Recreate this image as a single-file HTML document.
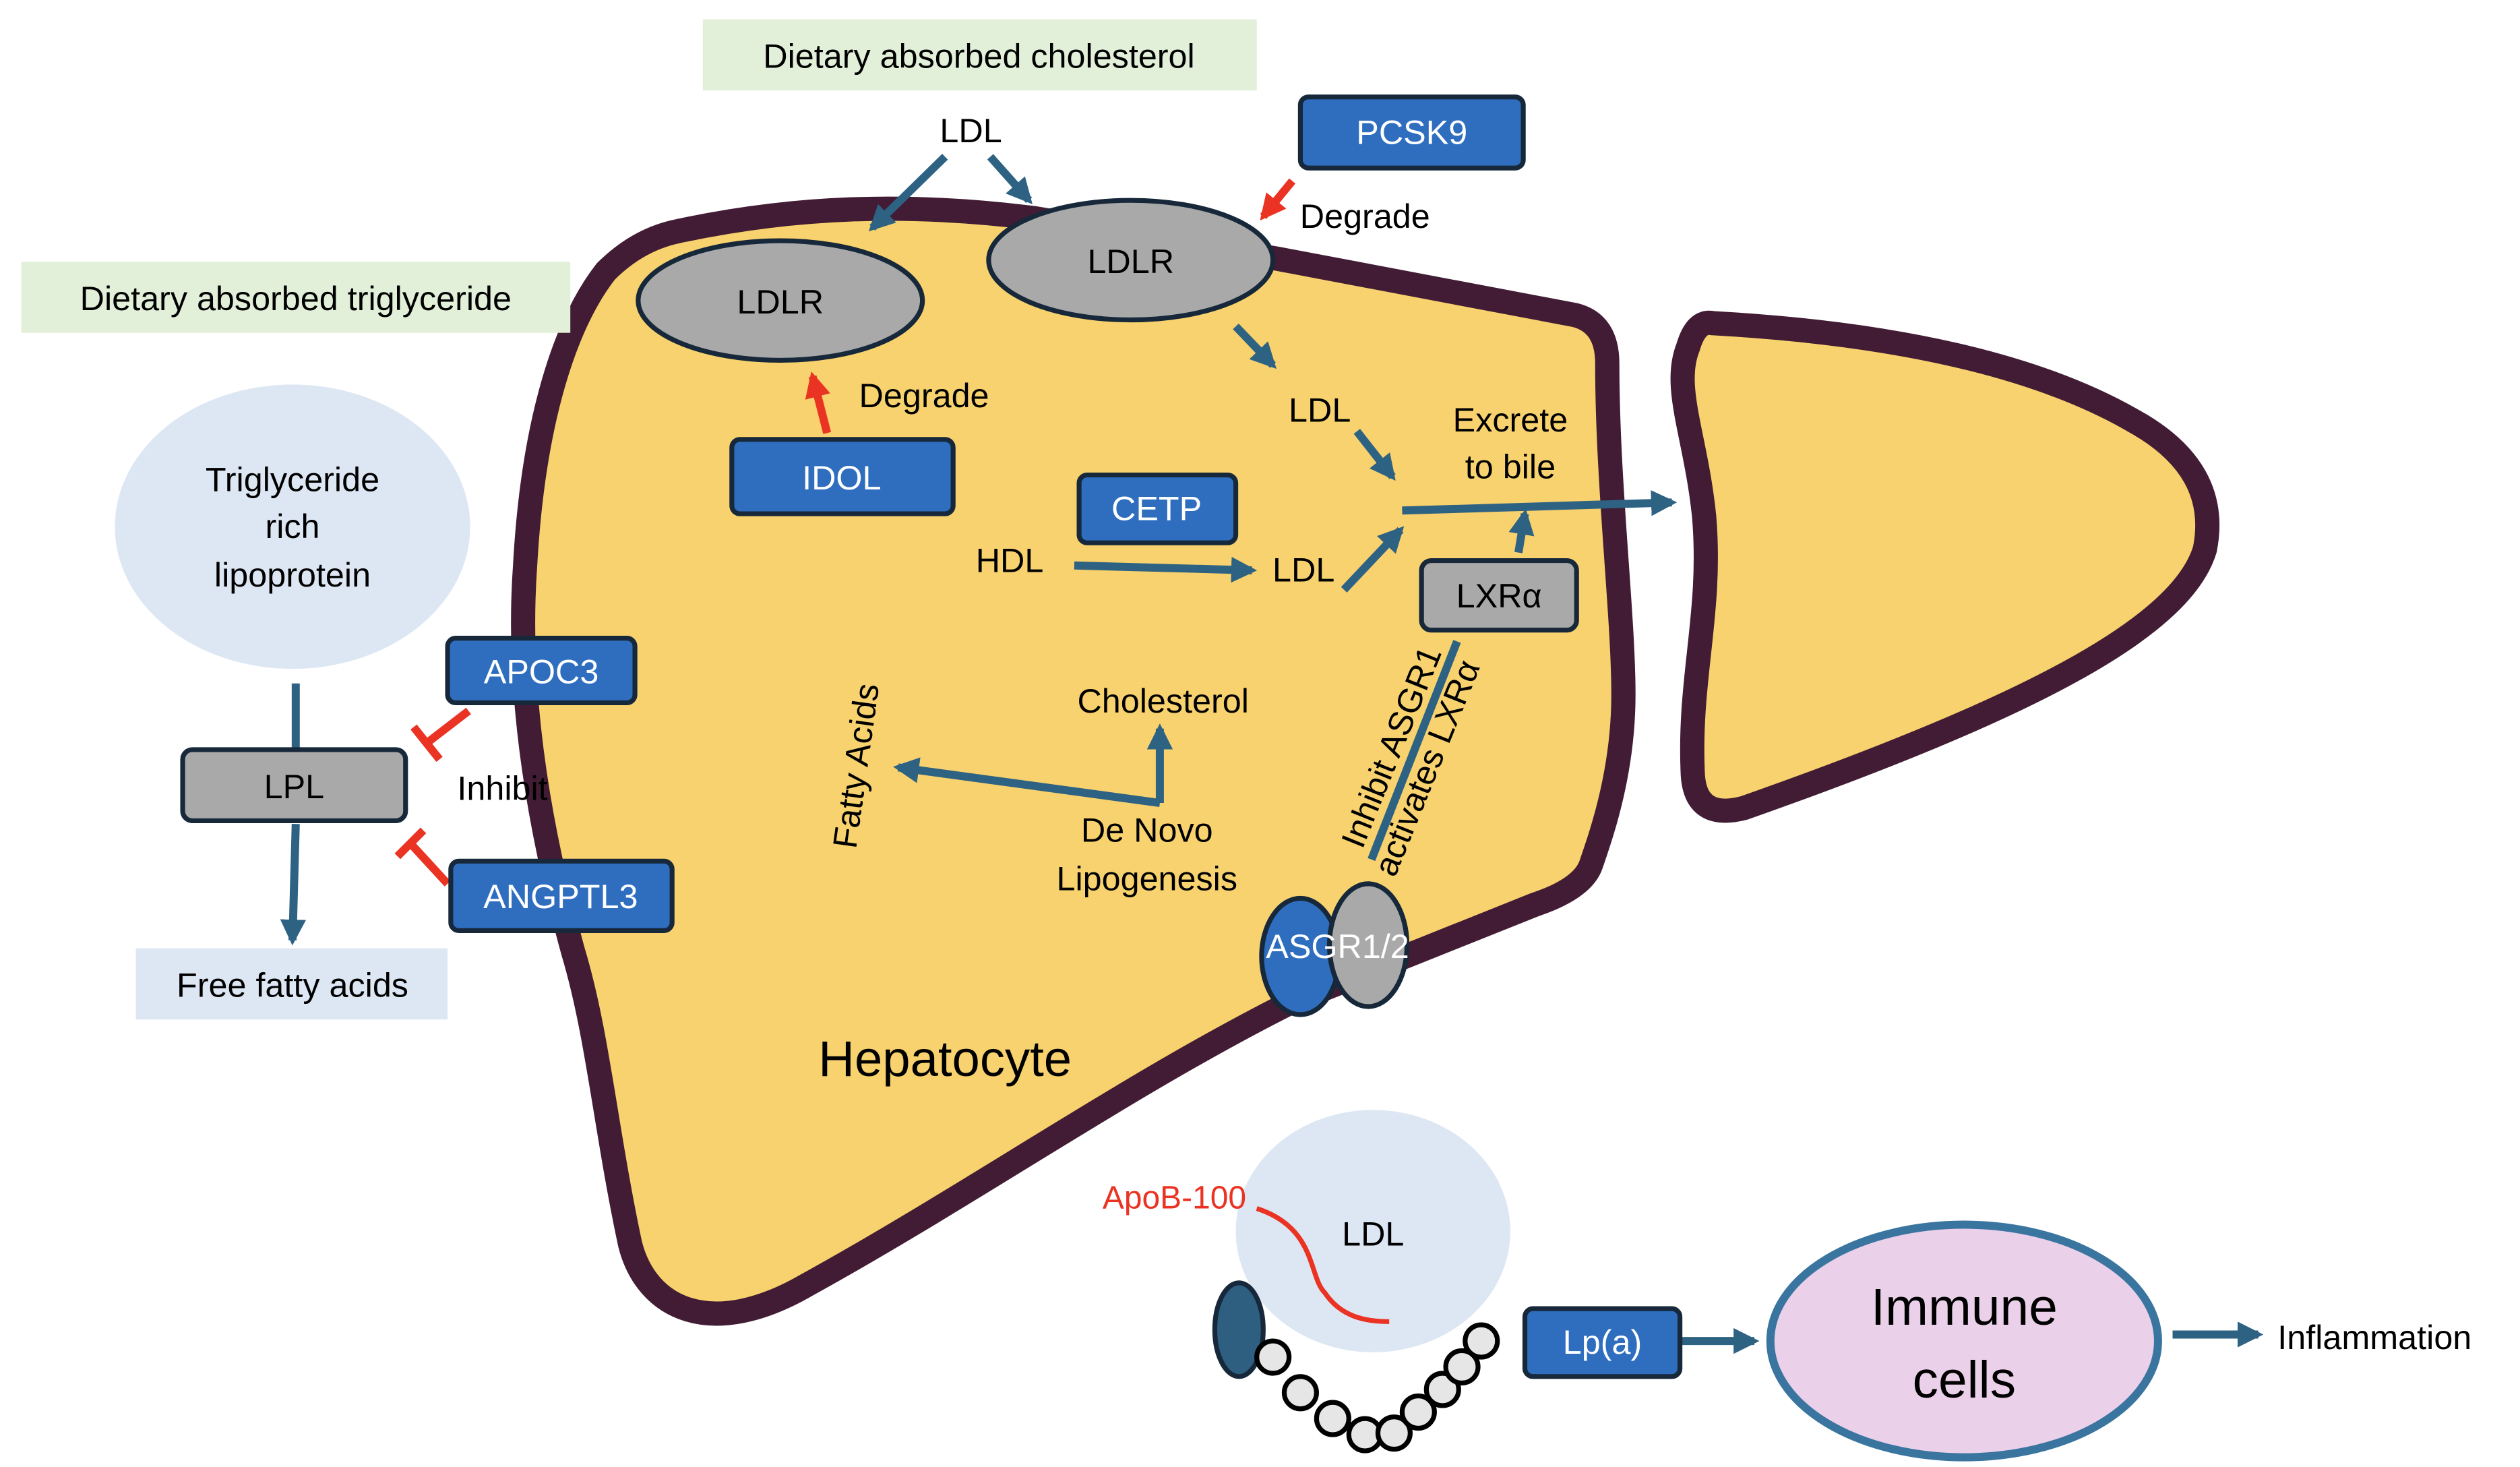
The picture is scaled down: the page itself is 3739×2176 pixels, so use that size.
<!DOCTYPE html>
<html><head><meta charset="utf-8"><style>html,body{margin:0;padding:0;background:#fff}svg{display:block}text{font-family:"Liberation Sans",sans-serif;fill:#000}</style></head><body>
<svg width="3739" height="2176" viewBox="0 0 1560 908" xmlns="http://www.w3.org/2000/svg">
<defs>
<marker id="a" viewBox="0 0 10 10" refX="8" refY="5" markerWidth="3.2" markerHeight="3.2" orient="auto"><path d="M0,0L10,5L0,10z" fill="#2e6283"/></marker>
<marker id="r" viewBox="0 0 10 10" refX="8" refY="5" markerWidth="3.2" markerHeight="3.2" orient="auto"><path d="M0,0L10,5L0,10z" fill="#ea3323"/></marker>
</defs>
<path d="M420,143 C490,128 560,125 640,135 L790,160 L975,195 Q995,200 995,225 C995,300 1005,380 1005,430 C1005,480 990,520 985,535 Q980,550 950,560 L800,620 C700,670 600,740 500,795 C440,830 400,810 390,770 C375,700 370,640 355,590 C330,500 320,420 325,350 C330,260 350,200 375,168 Q395,148 420,143 Z" fill="#f7d26e" stroke="#421c34" stroke-width="15"/>
<path d="M1060,200 C1150,205 1250,220 1320,260 Q1375,290 1365,340 C1350,390 1250,440 1080,500 Q1050,508 1048,480 C1045,420 1060,380 1055,320 C1050,270 1035,240 1045,215 Q1050,198 1060,200 Z" fill="#f7d26e" stroke="#421c34" stroke-width="15"/>
<g font-size="21">
<rect x="435" y="12" width="343" height="44" fill="#e2f0d9"/><text x="606" y="42" text-anchor="middle">Dietary absorbed cholesterol</text>
<rect x="13" y="162" width="340" height="44" fill="#e2f0d9"/><text x="183" y="192" text-anchor="middle">Dietary absorbed triglyceride</text>
<text x="601" y="88" text-anchor="middle">LDL</text>
</g>
<g stroke="#2e6283" stroke-width="5" fill="none" marker-end="url(#a)">
<line x1="585" y1="97" x2="540" y2="141"/>
<line x1="613" y1="97" x2="637" y2="124"/>
<line x1="765" y1="202" x2="788" y2="226"/>
<line x1="840" y1="267" x2="862" y2="295"/>
<line x1="868" y1="316" x2="1035" y2="311"/>
<line x1="940" y1="342" x2="944" y2="318"/>
<line x1="665" y1="350" x2="775" y2="353"/>
<line x1="832" y1="365" x2="867" y2="328"/>
<line x1="718" y1="497" x2="718" y2="451"/>
<polyline points="718,497 556,475"/>
<line x1="183" y1="510" x2="181" y2="582"/>
<line x1="1040" y1="830" x2="1086" y2="830"/>
<line x1="1345" y1="826" x2="1398" y2="826"/>
</g>
<line x1="183" y1="423" x2="183" y2="465" stroke="#2e6283" stroke-width="5"/>
<line x1="902" y1="397" x2="849" y2="532" stroke="#2e6283" stroke-width="5"/>
<g stroke="#ea3323" stroke-width="5" marker-end="url(#r)">
<line x1="800" y1="112" x2="782" y2="134"/>
<line x1="512" y1="268" x2="503" y2="233"/>
</g>
<g stroke="#ea3323" stroke-width="5">
<line x1="290" y1="440" x2="264" y2="460"/><line x1="256" y1="450" x2="272" y2="470"/>
<line x1="277" y1="547" x2="254" y2="522"/><line x1="246" y1="530" x2="262" y2="514"/>
</g>
<g stroke="#16283a" stroke-width="3">
<rect x="805" y="60" width="138" height="44" rx="5" fill="#2f6ebf"/>
<rect x="453" y="272" width="137" height="46" rx="5" fill="#2f6ebf"/>
<rect x="668" y="294" width="97" height="42" rx="5" fill="#2f6ebf"/>
<rect x="880" y="347" width="96" height="43" rx="6" fill="#a9a9a9"/>
<rect x="277" y="395" width="116" height="40" rx="5" fill="#2f6ebf"/>
<rect x="279" y="533" width="137" height="43" rx="5" fill="#2f6ebf"/>
<rect x="113" y="464" width="138" height="44" rx="6" fill="#a9a9a9"/>
<rect x="944" y="810" width="96" height="42" rx="5" fill="#2f6ebf"/>
<ellipse cx="700" cy="161" rx="88" ry="37" fill="#a9a9a9"/>
<ellipse cx="483" cy="186" rx="88" ry="37" fill="#a9a9a9"/>
<ellipse cx="805" cy="592" rx="24" ry="36" fill="#2f6ebf"/>
<ellipse cx="847" cy="585" rx="24" ry="38" fill="#a9a9a9"/>
</g>
<g font-size="21" text-anchor="middle">
<text x="874" y="89" style="fill:#fff">PCSK9</text>
<text x="521" y="303" style="fill:#fff">IDOL</text>
<text x="716" y="322" style="fill:#fff">CETP</text>
<text x="335" y="423" style="fill:#fff">APOC3</text>
<text x="347" y="562" style="fill:#fff">ANGPTL3</text>
<text x="992" y="838" style="fill:#fff">Lp(a)</text>
<text x="928" y="376">LXRα</text>
<text x="182" y="494">LPL</text>
<text x="700" y="169">LDLR</text>
<text x="483" y="194">LDLR</text>
<text x="828" y="593" style="fill:#fff">ASGR1/2</text>
<text x="845" y="141">Degrade</text>
<text x="572" y="252">Degrade</text>
<text x="817" y="261">LDL</text>
<text x="935" y="267">Excrete</text>
<text x="935" y="296">to bile</text>
<text x="625" y="354">HDL</text>
<text x="807" y="360">LDL</text>
<text x="720" y="441">Cholesterol</text>
<text x="710" y="521">De Novo</text>
<text x="710" y="551">Lipogenesis</text>
<text x="311" y="495">Inhibit</text>
</g>
<text x="0" y="0" font-size="21" text-anchor="middle" transform="translate(537,475) rotate(-82)">Fatty Acids</text>
<text x="0" y="0" font-size="21" text-anchor="middle" transform="translate(868,465) rotate(-68)">Inhibit ASGR1</text>
<text x="0" y="0" font-size="21" text-anchor="middle" transform="translate(890,478) rotate(-68)">activates LXRα</text>
<text x="585" y="666" font-size="31" text-anchor="middle">Hepatocyte</text>
<ellipse cx="181" cy="326" rx="110" ry="88" fill="#dde7f4"/>
<g font-size="21" text-anchor="middle"><text x="181" y="304">Triglyceride</text><text x="181" y="333">rich</text><text x="181" y="363">lipoprotein</text></g>
<rect x="84" y="587" width="193" height="44" fill="#dde7f4"/>
<text x="181" y="617" font-size="21" text-anchor="middle">Free fatty acids</text>
<ellipse cx="850" cy="762" rx="85" ry="75" fill="#dde7f4"/>
<text x="727" y="748" font-size="20" text-anchor="middle" style="fill:#ea3323">ApoB-100</text>
<path d="M778,748 C815,760 810,790 820,800 C830,815 845,818 860,818" fill="none" stroke="#ea3323" stroke-width="3"/>
<text x="850" y="771" font-size="21" text-anchor="middle">LDL</text>
<ellipse cx="767" cy="823" rx="15" ry="29" fill="#2e5e80" stroke="#16283a" stroke-width="3"/>
<g fill="#e6e6e6" stroke="#000" stroke-width="3">
<circle cx="788" cy="840" r="10"/><circle cx="805" cy="862" r="10"/><circle cx="825" cy="878" r="10"/><circle cx="845" cy="888" r="10"/><circle cx="863" cy="887" r="10"/><circle cx="878" cy="874" r="10"/><circle cx="893" cy="860" r="10"/><circle cx="905" cy="846" r="10"/><circle cx="917" cy="830" r="10"/>
</g>
<ellipse cx="1216" cy="830" rx="120" ry="72" fill="#ebd0ea" stroke="#3a75a0" stroke-width="5"/>
<text x="1216" y="820" font-size="32" text-anchor="middle">Immune</text>
<text x="1216" y="865" font-size="32" text-anchor="middle">cells</text>
<text x="1410" y="835" font-size="21">Inflammation</text>
</svg>
</body></html>
